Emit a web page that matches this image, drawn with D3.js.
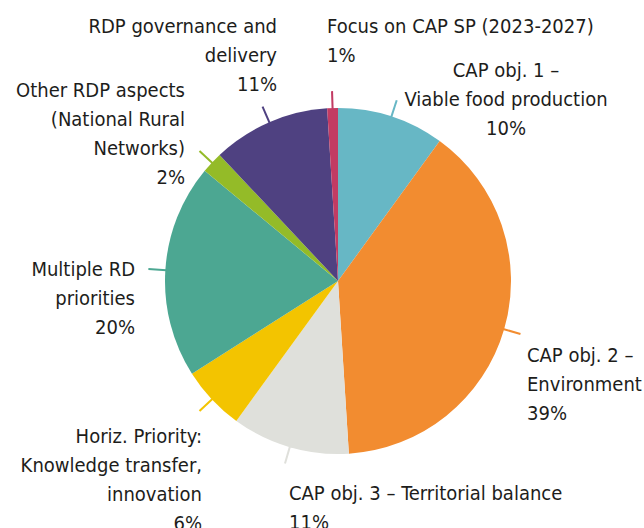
<!DOCTYPE html>
<html>
<head>
<meta charset="utf-8">
<script src="https://cdn.jsdelivr.net/npm/d3@7"></script>
<style>
  html, body { margin: 0; padding: 0; background: #fff; }
  text { font-family: "Liberation Sans Narrow", "DejaVu Sans Condensed", sans-serif; font-size: 20px; fill: #1d1d1b; }
</style>
</head>
<body>
<div id="chart"></div>
<script>
// slices, clockwise from 12 o'clock
var labels = [
    ["CAP obj. 1 –", "Viable food production"],
    ["CAP obj. 2 –", "Environment"],
    ["CAP obj. 3 – Territorial balance"],
    ["Horiz. Priority:", "Knowledge transfer,", "innovation"],
    ["Multiple RD", "priorities"],
    ["Other RDP aspects", "(National Rural", "Networks)"],
    ["RDP governance and", "delivery"],
    ["Focus on CAP SP (2023-2027)"]
];
var shares = [10, 39, 11, 6, 20, 2, 11, 1];
var colors = ["#67b7c5", "#f28c30", "#dfe0db", "#f3c400", "#4ca792", "#94bb28", "#4f4181", "#c23b63"];

// label anchors: x, first baseline, text-anchor
var labelPos = [
    [506, 77, "middle"],
    [527, 362, "start"],
    [289, 500, "start"],
    [202, 443, "end"],
    [135, 276, "end"],
    [185, 97, "end"],
    [277, 33, "end"],
    [327, 33, "start"]
];

var width = 644, height = 528,
    cx = 338, cy = 281, radius = 173, lineH = 29;

var data = shares.map(function(v, i) { return {value: v, label: labels[i], color: colors[i], pos: labelPos[i]}; });

var svg = d3.select("#chart").append("svg")
    .attr("width", width)
    .attr("height", height);

var g = svg.append("g")
    .attr("transform", "translate(" + cx + "," + cy + ")");

var pie = d3.pie().sort(null).value(function(d) { return d.value; });
var arc = d3.arc().innerRadius(0).outerRadius(radius);
var arcs = pie(data);

g.selectAll("path.slice")
    .data(arcs)
    .enter().append("path")
    .attr("class", "slice")
    .attr("d", arc)
    .attr("fill", function(d) { return d.data.color; });

// short leader ticks at mid angle
g.selectAll("line.tick")
    .data(arcs)
    .enter().append("line")
    .attr("class", "tick")
    .attr("x1", function(d) { return Math.sin((d.startAngle + d.endAngle) / 2) * (radius - 1); })
    .attr("y1", function(d) { return -Math.cos((d.startAngle + d.endAngle) / 2) * (radius - 1); })
    .attr("x2", function(d) { return Math.sin((d.startAngle + d.endAngle) / 2) * (radius + 17); })
    .attr("y2", function(d) { return -Math.cos((d.startAngle + d.endAngle) / 2) * (radius + 17); })
    .attr("stroke", function(d) { return d.data.color; })
    .attr("stroke-width", 2);

var lab = svg.selectAll("text.lab")
    .data(data)
    .enter().append("text")
    .attr("class", "lab")
    .attr("text-anchor", function(d) { return d.pos[2]; });

lab.selectAll("tspan")
    .data(function(d) { return d.label.concat([d.value + "%"]).map(function(t) { return {t: t, pos: d.pos}; }); })
    .enter().append("tspan")
    .attr("x", function(d) { return d.pos[0]; })
    .attr("y", function(d, i) { return d.pos[1] + i * lineH; })
    .text(function(d) { return d.t; });
</script>
</body>
</html>
